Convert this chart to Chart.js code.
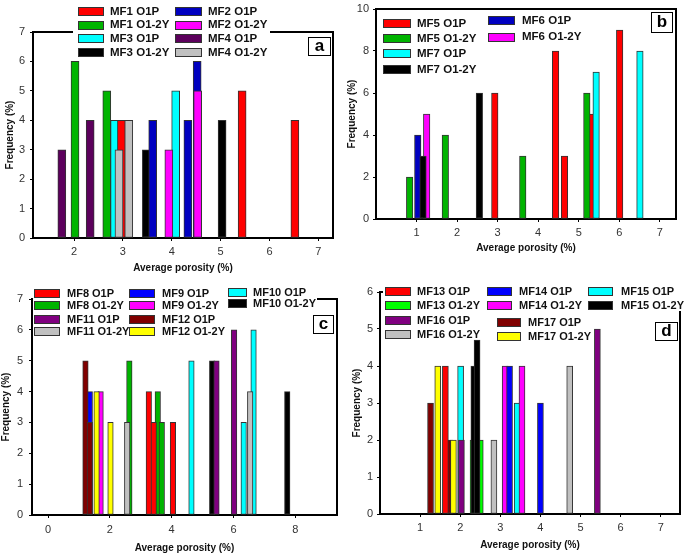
<!DOCTYPE html>
<html><head><meta charset="utf-8">
<script src="https://cdn.jsdelivr.net/npm/chart.js@4.4.0/dist/chart.umd.min.js"></script>
<style>
html,body{margin:0;padding:0;background:#fff;}
#wrap{position:relative;width:685px;height:556px;overflow:hidden;font-family:"Liberation Sans",Arial,sans-serif;}
canvas{position:absolute;}
.lg{position:absolute;font-weight:bold;color:#111;white-space:nowrap;line-height:1;}
.box{position:absolute;border:1px solid #333;box-sizing:border-box;}
.bg{position:absolute;background:#fff;}
.tag{position:absolute;background:#fff;border:1.5px solid #000;box-sizing:border-box;font-weight:bold;font-size:17px;text-align:center;color:#000;}
</style></head><body><div id="wrap"></div>
<script>
// ================= DATA =================
// Panel a
const xTicksA = [2, 3, 4, 5, 6, 7];
const yTicksA = [0, 1, 2, 3, 4, 5, 6, 7];
const MF1_O1P  = [[2.97, 4], [5.44, 5], [6.52, 4]];
const MF1_O12Y = [[2.02, 6], [2.67, 5]];
const MF2_O1P  = [[3.61, 4], [4.33, 4], [4.52, 6]];
const MF2_O12Y = [[3.94, 3], [4.53, 5]];
const MF3_O1P  = [[2.83, 4], [4.08, 5]];
const MF3_O12Y = [[3.48, 3], [5.03, 4]];
const MF4_O1P  = [[1.75, 3], [2.33, 4]];
const MF4_O12Y = [[2.92, 3], [3.12, 4]];
// Panel b
const xTicksB = [1, 2, 3, 4, 5, 6, 7];
const yTicksB = [0, 2, 4, 6, 8, 10];
const MF5_O1P  = [[2.93, 6], [4.43, 8], [4.65, 3], [5.31, 5], [6.01, 9]];
const MF5_O12Y = [[0.83, 2], [1.71, 4], [3.62, 3], [5.20, 6]];
const MF6_O1P  = [[1.03, 4]];
const MF6_O12Y = [[1.25, 5]];
const MF7_O1P  = [[5.43, 7], [6.51, 8]];
const MF7_O12Y = [[1.16, 3], [2.55, 6]];
// Panel c
const xTicksC = [0, 2, 4, 6, 8];
const yTicksC = [0, 1, 2, 3, 4, 5, 6, 7];
const MF8_O1P   = [[3.26, 4], [3.42, 3], [4.04, 3]];
const MF8_O12Y  = [[2.63, 5], [3.55, 4], [3.68, 3]];
const MF9_O1P   = [[1.35, 4]];
const MF9_O12Y  = [[1.70, 4]];
const MF10_O1P  = [[4.64, 5], [6.33, 3], [6.65, 6]];
const MF10_O12Y = [[5.31, 5], [7.74, 4]];
const MF11_O1P  = [[5.45, 5], [6.02, 6]];
const MF11_O12Y = [[2.56, 3], [6.54, 4]];
const MF12_O1P  = [[1.21, 5], [1.35, 3]];
const MF12_O12Y = [[1.57, 4], [2.02, 3]];
// Panel d
const xTicksD = [1, 2, 3, 4, 5, 6, 7];
const yTicksD = [0, 1, 2, 3, 4, 5, 6];
const MF13_O1P  = [[1.63, 4]];
const MF13_O12Y = [[2.32, 2], [2.50, 2]];
const MF14_O1P  = [[3.23, 4], [4.00, 3]];
const MF14_O12Y = [[3.12, 4], [3.54, 4]];
const MF15_O1P  = [[2.01, 4], [3.42, 3]];
const MF15_O12Y = [[2.34, 4], [2.42, 4.7]];
const MF16_O1P  = [[2.03, 2], [5.42, 5]];
const MF16_O12Y = [[2.84, 2], [4.73, 4]];
const MF17_O1P  = [[1.26, 3], [1.74, 2]];
const MF17_O12Y = [[1.44, 4], [1.83, 2]];

const xTitle = 'Average porosity (%)';
const yTitle = 'Frequency (%)';

// ================= STYLE / LAYOUT =================
const FF = '"Liberation Sans", Arial, sans-serif';
const C = {red:'#ff0000', green:'#00b400', lime:'#00ff00', blue:'#0000c0', bblue:'#0000ff', mag:'#ff00ff',
           cyan:'#00ffff', black:'#000000', purple:'#5c005c', purple2:'#800080', gray:'#c0c0c0',
           dred:'#800000', yellow:'#ffff00'};

const panels = [
  { left:0, top:0, w:340, h:280, yW:33, padTop:32, padRight:7, xH:42, xMin:1.16, xMax:7.3, yMax:7,
    xTicks:xTicksA, yTicks:yTicksA, barW:8, xTitlePad:6, yTitlePad:4, xTickPad:4, yTickPad:5,
    fs:11.5, tag:{t:'a', x:308, y:37, w:23, h:19},
    bgs:[[73,0,197,59]],
    cols:[[78,26,110],[175,27,208]],
    series:[
      {label:'MF1 O1P', data:MF1_O1P, color:C.red, order:2, leg:[0,11.7]},
      {label:'MF1 O1-2Y', data:MF1_O12Y, color:C.green, order:3, leg:[0,25]},
      {label:'MF3 O1P', data:MF3_O1P, color:C.cyan, order:3, leg:[0,38.3]},
      {label:'MF3 O1-2Y', data:MF3_O12Y, color:C.black, order:3, leg:[0,52.2]},
      {label:'MF2 O1P', data:MF2_O1P, color:C.blue, order:2, leg:[1,11.7]},
      {label:'MF2 O1-2Y', data:MF2_O12Y, color:C.mag, order:1, leg:[1,25]},
      {label:'MF4 O1P', data:MF4_O1P, color:C.purple, order:3, leg:[1,38.3]},
      {label:'MF4 O1-2Y', data:MF4_O12Y, color:C.gray, order:1, leg:[1,52.2]}
    ]},
  { left:340, top:0, w:345, h:260, yW:36, padTop:9, padRight:9, xH:41, xMin:0, xMax:7.4, yMax:10,
    xTicks:xTicksB, yTicks:yTicksB, barW:6.5, xTitlePad:6, yTitlePad:6.7, xTickPad:4, yTickPad:4,
    fs:11.5, tag:{t:'b', x:651, y:12, w:22, h:21},
    bgs:[],
    cols:[[383,28,417],[488,27,522]],
    series:[
      {label:'MF5 O1P', data:MF5_O1P, color:C.red, order:3, leg:[0,23.3]},
      {label:'MF5 O1-2Y', data:MF5_O12Y, color:C.green, order:1, leg:[0,38.8]},
      {label:'MF7 O1P', data:MF7_O1P, color:C.cyan, order:1, leg:[0,53.7]},
      {label:'MF7 O1-2Y', data:MF7_O12Y, color:C.black, order:1, leg:[0,69.5]},
      {label:'MF6 O1P', data:MF6_O1P, color:C.blue, order:2, leg:[1,20.5]},
      {label:'MF6 O1-2Y', data:MF6_O12Y, color:C.mag, order:2, leg:[1,37]}
    ]},
  { left:0, top:270, w:345, h:286, yW:32, padTop:29, padRight:8, xH:41, xMin:-0.52, xMax:9.35, yMax:7,
    xTicks:xTicksC, yTicks:yTicksC, barW:5.5, xTitlePad:1.7, yTitlePad:0, xTickPad:5, yTickPad:6,
    fs:11, tag:{t:'c', x:313, y:315, w:21, h:19},
    bgs:[[33,285,196,54],[228,285,89,26]],
    cols:[[34,26,67],[129,26,162],[228,19,253]],
    series:[
      {label:'MF8 O1P', data:MF8_O1P, color:C.red, order:2, leg:[0,293]},
      {label:'MF8 O1-2Y', data:MF8_O12Y, color:C.green, order:2, leg:[0,305]},
      {label:'MF11 O1P', data:MF11_O1P, color:C.purple2, order:2, leg:[0,319]},
      {label:'MF11 O1-2Y', data:MF11_O12Y, color:C.gray, order:1, leg:[0,331.8]},
      {label:'MF9 O1P', data:MF9_O1P, color:C.bblue, order:2, leg:[1,293]},
      {label:'MF9 O1-2Y', data:MF9_O12Y, color:C.mag, order:2, leg:[1,305]},
      {label:'MF12 O1P', data:MF12_O1P, color:C.dred, order:1, leg:[1,319]},
      {label:'MF12 O1-2Y', data:MF12_O12Y, color:C.yellow, order:1, leg:[1,331.8]},
      {label:'MF10 O1P', data:MF10_O1P, color:C.cyan, order:2, leg:[2,292]},
      {label:'MF10 O1-2Y', data:MF10_O12Y, color:C.black, order:2, leg:[2,303.8]}
    ]},
  { left:340, top:270, w:345, h:286, yW:40, padTop:22, padRight:5, xH:42, xMin:0, xMax:7.48, yMax:6,
    xTicks:xTicksD, yTicks:yTicksD, barW:6, xTitlePad:5, yTitlePad:11, xTickPad:4, yTickPad:4,
    fs:11, tag:{t:'d', x:655, y:322, w:23, h:19},
    bgs:[[383,284,302,27]],
    cols:[[385,26,417],[487,25,519],[588,25,621],[497,24,528]],
    series:[
      {label:'MF13 O1P', data:MF13_O1P, color:C.red, order:2, leg:[0,291.7]},
      {label:'MF13 O1-2Y', data:MF13_O12Y, color:C.lime, order:2, leg:[0,305]},
      {label:'MF16 O1P', data:MF16_O1P, color:C.purple2, order:1, leg:[0,320.7]},
      {label:'MF16 O1-2Y', data:MF16_O12Y, color:C.gray, order:2, leg:[0,334.3]},
      {label:'MF14 O1P', data:MF14_O1P, color:C.bblue, order:2, leg:[1,291.7]},
      {label:'MF14 O1-2Y', data:MF14_O12Y, color:C.mag, order:2, leg:[1,305]},
      {label:'MF15 O1P', data:MF15_O1P, color:C.cyan, order:2, leg:[2,291.7]},
      {label:'MF15 O1-2Y', data:MF15_O12Y, color:C.black, order:1, leg:[2,305]},
      {label:'MF17 O1P', data:MF17_O1P, color:C.dred, order:2, leg:[3,322.7]},
      {label:'MF17 O1-2Y', data:MF17_O12Y, color:C.yellow, order:1, leg:[3,336.7]}
    ]}
];

const framePlugin = {
  id: 'frame',
  afterDraw(chart) {
    const {ctx, chartArea: a} = chart;
    ctx.save();
    ctx.strokeStyle = '#000'; ctx.lineWidth = 2;
    ctx.beginPath();
    ctx.moveTo(a.left, a.top); ctx.lineTo(a.right, a.top); ctx.lineTo(a.right, a.bottom);
    ctx.stroke();
    ctx.restore();
  }
};

const wrap = document.getElementById('wrap');

function makePanel(p) {
  const cv = document.createElement('canvas');
  cv.width = p.w; cv.height = p.h;
  cv.style.left = p.left + 'px'; cv.style.top = p.top + 'px';
  cv.style.width = p.w + 'px'; cv.style.height = p.h + 'px';
  wrap.appendChild(cv);
  new Chart(cv, {
    type: 'bar',
    data: {
      datasets: p.series.map(s => ({
        label: s.label,
        data: s.data.map(([x, y]) => ({x, y})),
        backgroundColor: s.color,
        borderColor: '#333',
        borderWidth: 1,
        borderSkipped: false,
        barThickness: p.barW,
        grouped: false,
        order: s.order
      }))
    },
    options: {
      responsive: false, animation: false, devicePixelRatio: 1,
      layout: {padding: {left: 0, top: p.padTop, right: p.padRight, bottom: 0}},
      plugins: {legend: {display: false}, tooltip: {enabled: false}},
      scales: {
        x: {
          type: 'linear', min: p.xMin, max: p.xMax, offset: false,
          grid: {display: true, drawOnChartArea: false, drawTicks: true, tickLength: 3, color: '#000', offset: false},
          border: {display: true, color: '#000', width: 2},
          ticks: {font: {size: 11, family: FF}, color: '#333', padding: p.xTickPad, maxRotation: 0, autoSkip: false},
          afterBuildTicks: s => { s.ticks = p.xTicks.map(v => ({value: v})); },
          afterFit: s => { s.height = p.xH; s.paddingLeft = 0; s.paddingRight = 0; },
          title: {display: true, text: xTitle, color: '#111',
                  font: {size: 10, weight: 'bold', family: FF}, padding: {top: 0, bottom: p.xTitlePad}}
        },
        y: {
          type: 'linear', min: 0, max: p.yMax,
          grid: {display: true, drawOnChartArea: false, drawTicks: true, tickLength: 3, color: '#000'},
          border: {display: true, color: '#000', width: 2},
          ticks: {font: {size: 11, family: FF}, color: '#333', padding: p.yTickPad, autoSkip: false},
          afterBuildTicks: s => { s.ticks = p.yTicks.map(v => ({value: v})); },
          afterFit: s => { s.width = p.yW; s.paddingTop = 0; s.paddingBottom = 0; },
          title: {display: true, text: yTitle, color: '#111',
                  font: {size: 10, weight: 'bold', family: FF}, padding: {top: p.yTitlePad, bottom: 0}}
        }
      }
    },
    plugins: [framePlugin]
  });

  // legend backgrounds (cover frame line like the original)
  p.bgs.forEach(([x, y, w, h]) => {
    const d = document.createElement('div');
    d.className = 'bg';
    Object.assign(d.style, {left: x + 'px', top: y + 'px', width: w + 'px', height: h + 'px'});
    wrap.appendChild(d);
  });
  // legend items
  p.series.forEach(s => {
    const [ci, cy] = s.leg;
    const [bx, bw, tx] = p.cols[ci];
    const b = document.createElement('div');
    b.className = 'box';
    Object.assign(b.style, {left: bx + 'px', top: (cy - 4.5) + 'px', width: bw + 'px', height: '9px', background: s.color});
    wrap.appendChild(b);
    const t = document.createElement('div');
    t.className = 'lg';
    t.textContent = s.label;
    Object.assign(t.style, {left: tx + 'px', top: (cy - 0.49 * p.fs) + 'px', fontSize: p.fs + 'px'});
    wrap.appendChild(t);
  });
  // panel tag
  const g = document.createElement('div');
  g.className = 'tag';
  g.textContent = p.tag.t;
  Object.assign(g.style, {left: p.tag.x + 'px', top: p.tag.y + 'px', width: p.tag.w + 'px', height: p.tag.h + 'px',
                          lineHeight: (p.tag.h - 3) + 'px'});
  wrap.appendChild(g);
}

panels.forEach(makePanel);
</script>
</body></html>
